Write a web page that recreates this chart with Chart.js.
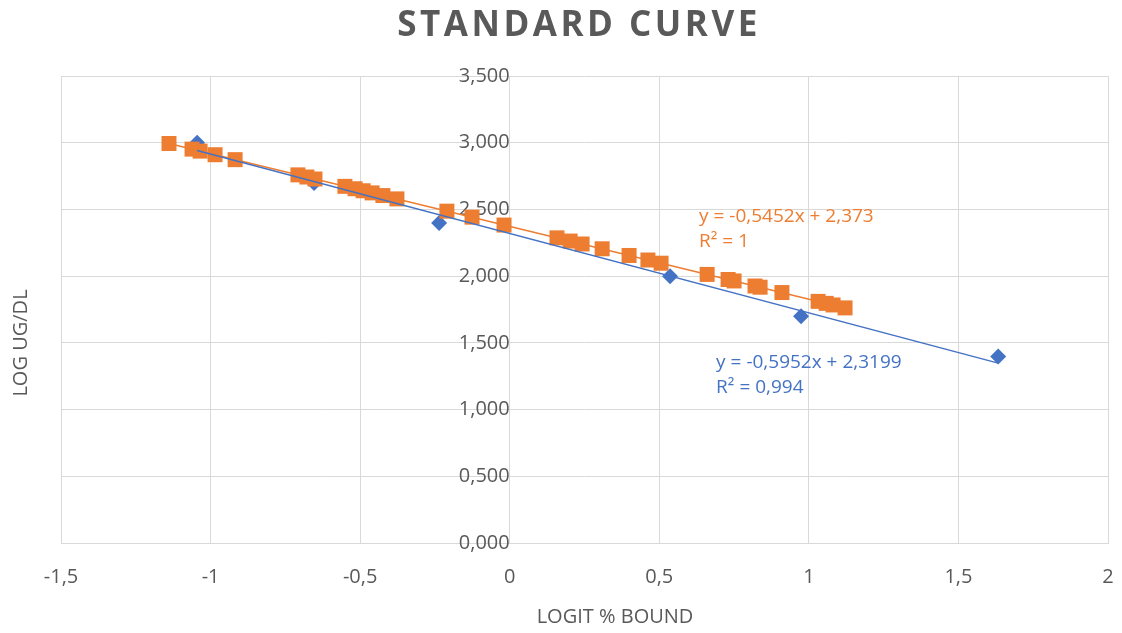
<!DOCTYPE html>
<html><head><meta charset="utf-8">
<script src="https://cdn.jsdelivr.net/npm/chart.js@4/dist/chart.umd.min.js"></script>
<style>html,body{margin:0;padding:0;background:#fff;overflow:hidden}#wrap{width:1122px;height:633px;position:relative}</style>
</head><body><div id="wrap"><canvas id="c"></canvas></div>
<script>
const chartTitle = 'STANDARD CURVE';
const xAxisTitle = 'LOGIT % BOUND';
const yAxisTitle = 'LOG UG/DL';

const xTickValues = [-1.5, -1, -0.5, 0, 0.5, 1, 1.5, 2];
const yTickValues = [0, 0.5, 1, 1.5, 2, 2.5, 3, 3.5];

// Series 1 (blue diamonds): standards
const standardX = [-1.045, -0.654, -0.236, 0.536, 0.974, 1.633];
const standardY = [3.000, 2.699, 2.398, 2.000, 1.699, 1.398];

// Series 2 (orange squares)
const sampleX = [-1.139, -1.062, -1.035, -0.985, -0.918, -0.708, -0.678, -0.651, -0.551, -0.517,
                 -0.490, -0.460, -0.424, -0.377, -0.210, -0.126, -0.019, 0.158, 0.202, 0.242,
                 0.309, 0.399, 0.462, 0.506, 0.660, 0.730, 0.750, 0.820, 0.837, 0.910,
                 1.031, 1.058, 1.081, 1.121];
const sampleY = [2.994, 2.952, 2.937, 2.910, 2.873, 2.759, 2.743, 2.728, 2.673, 2.655,
                 2.640, 2.624, 2.604, 2.579, 2.487, 2.442, 2.383, 2.287, 2.263, 2.241,
                 2.205, 2.155, 2.121, 2.097, 2.013, 1.975, 1.964, 1.926, 1.917, 1.877,
                 1.811, 1.796, 1.784, 1.762];

// Trendline equations shown on the chart
const standardFit = [-0.5952, 2.3199];
const sampleFit = [-0.5452, 2.373];
const standardLabel = ['y = -0,5952x + 2,3199', 'R² = 0,994'];
const sampleLabel = ['y = -0,5452x + 2,373', 'R² = 1'];
const standardLabelAt = [0.69, 1.352];
const sampleLabelAt = [0.633, 2.449];

const BLUE = '#4472C4';
const ORANGE = '#ED7D31';
const GRID = '#D9D9D9';
const TEXT = '#595959';

const toPts = (xs, ys) => xs.map((v, i) => ({x: v, y: ys[i]}));
const fitPts = (xs, fit) => {
  const lo = Math.min(...xs), hi = Math.max(...xs);
  return [{x: lo, y: fit[0] * lo + fit[1]}, {x: hi, y: fit[0] * hi + fit[1]}];
};
const fmtComma = (v, d) => (d == null ? String(Math.round(v * 10) / 10) : v.toFixed(d)).replace('.', ',');

const textPlugin = {
  id: 'texts',
  afterDraw(chart) {
    const {ctx} = chart;
    const xs = chart.scales.x, ys = chart.scales.y;
    ctx.save();
    ctx.textAlign = 'center';
    ctx.textBaseline = 'middle';
    ctx.fillStyle = TEXT;
    ctx.font = 'bold 35px "Open Sans"';
    if ('letterSpacing' in ctx) ctx.letterSpacing = '3.5px';
    ctx.fillText(chartTitle, 579, 26);
    if ('letterSpacing' in ctx) ctx.letterSpacing = '0px';
    ctx.font = '20px "Open Sans"';
    ctx.fillText(xAxisTitle, 615, 617);
    ctx.save();
    ctx.translate(21, 343);
    ctx.rotate(-Math.PI / 2);
    ctx.fillText(yAxisTitle, 0, 0);
    ctx.restore();
    ctx.textAlign = 'left';
    ctx.font = '19px "Open Sans"';
    const drawLabel = (lines, at, color) => {
      const px = xs.getPixelForValue(at[0]);
      const py = ys.getPixelForValue(at[1]);
      ctx.fillStyle = color;
      lines.forEach((t, i) => ctx.fillText(t, px, py + i * 25));
    };
    drawLabel(sampleLabel, sampleLabelAt, ORANGE);
    drawLabel(standardLabel, standardLabelAt, BLUE);
    ctx.restore();
  }
};

Chart.defaults.font.family = '"Open Sans"';
new Chart(document.getElementById('c'), {
  type: 'scatter',
  data: {
    datasets: [
      {label: 'Standard', data: toPts(standardX, standardY), pointStyle: 'rectRot', pointRadius: 8,
       pointHoverRadius: 8, backgroundColor: BLUE, borderColor: BLUE, borderWidth: 0, order: 4},
      {label: 'Sample', data: toPts(sampleX, sampleY), pointStyle: 'rect', pointRadius: 10.6,
       pointHoverRadius: 10.6, backgroundColor: ORANGE, borderColor: ORANGE, borderWidth: 0, order: 3},
      {label: 'Sample fit', type: 'line', data: fitPts(sampleX, sampleFit), borderColor: ORANGE,
       borderWidth: 1.5, pointRadius: 0, fill: false, order: 2},
      {label: 'Standard fit', type: 'line', data: fitPts(standardX, standardFit), borderColor: BLUE,
       borderWidth: 1.5, pointRadius: 0, fill: false, order: 1}
    ]
  },
  options: {
    responsive: true,
    maintainAspectRatio: false,
    animation: false,
    layout: {padding: {left: 61, right: 14, top: 76, bottom: 22}},
    plugins: {legend: {display: false}, title: {display: false}, tooltip: {enabled: false}},
    scales: {
      x: {
        type: 'linear', position: 'bottom', min: -1.5, max: 2,
        afterBuildTicks: s => { s.ticks = xTickValues.map(v => ({value: v})); },
        afterFit: s => { s.paddingRight = 6; s.paddingLeft = 20; },
        grid: {color: GRID, lineWidth: 1, drawTicks: false},
        border: {color: GRID},
        ticks: {color: TEXT, font: {size: 20}, padding: 22, maxRotation: 0, callback: v => fmtComma(v)}
      },
      y: {
        type: 'linear', position: {x: 0}, min: 0, max: 3.5,
        afterBuildTicks: s => { s.ticks = yTickValues.map(v => ({value: v})); },
        grid: {color: GRID, lineWidth: 1, drawTicks: false},
        border: {color: GRID},
        ticks: {color: TEXT, font: {size: 20}, padding: 22, callback: v => fmtComma(v, 3)}
      }
    }
  },
  plugins: [textPlugin]
});
</script></body></html>
